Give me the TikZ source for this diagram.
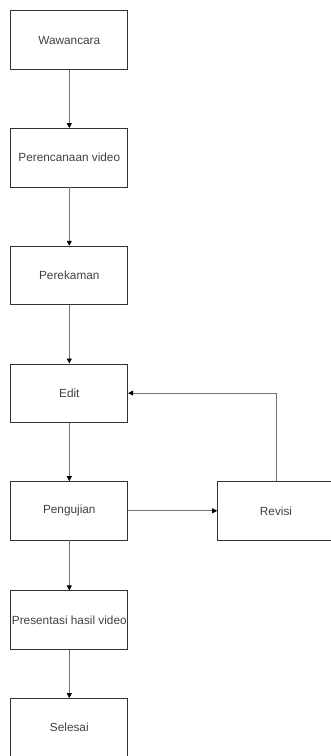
\documentclass[tikz,border=0pt]{standalone}
\usepackage{fontspec}
\setmainfont{Liberation Sans}
\usetikzlibrary{arrows.meta,positioning}

\begin{document}
\begin{tikzpicture}[x=1pt,y=1pt,
	stepbox/.style={draw=black!80, line width=0.7pt, minimum width=117pt, minimum height=58.5pt,
		inner sep=0pt, font=\fontsize{11.8}{14}\selectfont, text=black!75},
	flow/.style={-{Triangle[length=5pt,width=5pt,color=black]}, line width=0.8pt, draw=black!55},
	node distance=58.5pt]

		\useasboundingbox (0,0) rectangle (331,-756);
		\clip (0,0) rectangle (331,-756);

		\node [stepbox] (wawancara) at (69.3,-40) {Wawancara};
		\node [stepbox, below=of wawancara] (rencana) {Perencanaan video};
		\node [stepbox, below=of rencana] (rekam) {Perekaman};
		\node [stepbox, below=of rekam] (edit) {Edit};
		\node [stepbox, below=of edit] (uji) {Pengujian};
		\node [stepbox, below=50pt of uji] (presentasi) {Presentasi hasil video};
		\node [stepbox, below=48.5pt of presentasi] (selesai) {Selesai};

		\node [stepbox, right=89pt of uji] (revisi) {Revisi};

		\draw [flow] (wawancara) -- (rencana);
		\draw [flow] (rencana) -- (rekam);
		\draw [flow] (rekam) -- (edit);
		\draw [flow] (edit) -- (uji);
		\draw [flow] (uji) -- (presentasi);
		\draw [flow] (presentasi) -- (selesai);

		\draw [flow] (uji) -- (revisi);
		\draw [flow] (revisi.north) |- (edit.east);

\end{tikzpicture}
\end{document}
